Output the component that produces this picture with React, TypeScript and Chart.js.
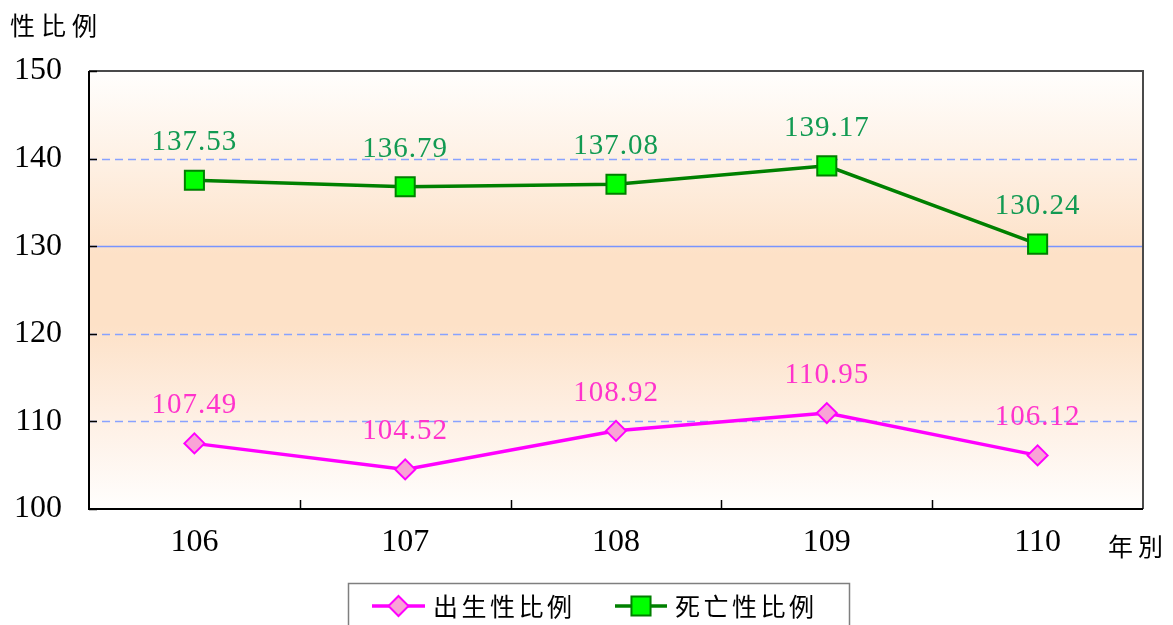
import React, { useEffect, useRef } from 'react';
import { Chart, registerables } from 'chart.js';

Chart.register(...registerables);

const years = ['106', '107', '108', '109', '110'];
const birthRatio = [107.49, 104.52, 108.92, 110.95, 106.12];
const deathRatio = [137.53, 136.79, 137.08, 139.17, 130.24];
const yTickValues = [100, 110, 120, 130, 140, 150];
const seriesNames = ['出生性比例', '死亡性比例'];
const yTitle = '性比例';
const xTitle = '年別';

const W = 1173;
const H = 625;
const CJK = '"Noto Sans CJK TC", "Noto Sans CJK SC", sans-serif';
const SERIF = '"Liberation Serif", "Times New Roman", serif';

function spaced(ctx: CanvasRenderingContext2D, text: string, x: number, y: number, pitch: number) {
  for (let i = 0; i < text.length; i++) ctx.fillText(text[i], x + i * pitch, y);
}

function drawMarker(ctx: CanvasRenderingContext2D, style: string, x: number, y: number, r: number, fill: string, stroke: string, lw: number) {
  ctx.save();
  ctx.beginPath();
  if (style === 'rectRot') {
    ctx.moveTo(x, y - r);
    ctx.lineTo(x + r, y);
    ctx.lineTo(x, y + r);
    ctx.lineTo(x - r, y);
    ctx.closePath();
  } else {
    const s = Math.SQRT1_2 * r;
    ctx.rect(x - s, y - s, 2 * s, 2 * s);
  }
  ctx.fillStyle = fill;
  ctx.fill();
  ctx.lineWidth = lw;
  ctx.strokeStyle = stroke;
  ctx.stroke();
  ctx.restore();
}

const labelColors = ['#FF33CC', '#129A52'];

const decor = {
  id: 'decor',
  beforeDatasetsDraw(chart: any) {
    const { ctx, chartArea: a } = chart;
    ctx.save();
    const g = ctx.createLinearGradient(0, a.top, 0, a.bottom);
    g.addColorStop(0, '#FFFEFD');
    g.addColorStop(0.2, '#FEF1E5');
    g.addColorStop(0.42, '#FDE1C7');
    g.addColorStop(0.58, '#FDE1C7');
    g.addColorStop(0.8, '#FEF0E5');
    g.addColorStop(1, '#FFFEFD');
    ctx.fillStyle = g;
    ctx.fillRect(a.left, a.top, a.right - a.left, a.bottom - a.top);
    const ys = chart.scales.y;
    yTickValues.slice(1, -1).forEach((v) => {
      const py = Math.round(ys.getPixelForValue(v)) + 0.5;
      ctx.beginPath();
      ctx.setLineDash(v === 130 ? [] : [8, 5]);
      ctx.strokeStyle = v === 130 ? '#7894FF' : '#88A2FF';
      ctx.lineWidth = v === 130 ? 1.5 : 1.3;
      ctx.moveTo(a.left, py);
      ctx.lineTo(a.right, py);
      ctx.stroke();
    });
    ctx.setLineDash([]);
    ctx.restore();
  },
  afterDatasetsDraw(chart: any) {
    const { ctx } = chart;
    ctx.save();
    ctx.font = `29px ${SERIF}`;
    (ctx as any).letterSpacing = '1px';
    ctx.textAlign = 'center';
    ctx.textBaseline = 'alphabetic';
    chart.data.datasets.forEach((ds: any, di: number) => {
      const meta = chart.getDatasetMeta(di);
      ctx.fillStyle = labelColors[di];
      meta.data.forEach((pt: any, i: number) => {
        ctx.fillText(Number(ds.data[i]).toFixed(2), pt.x, pt.y - 30);
      });
    });
    (ctx as any).letterSpacing = '0px';
    ctx.restore();
  },
  afterDraw(chart: any) {
    const { ctx, chartArea: a } = chart;
    ctx.save();
    // frame
    ctx.lineWidth = 2;
    ctx.strokeStyle = '#4A4A4A';
    ctx.beginPath();
    ctx.moveTo(a.left, a.top);
    ctx.lineTo(a.right, a.top);
    ctx.lineTo(a.right, a.bottom);
    ctx.stroke();
    ctx.strokeStyle = '#000000';
    ctx.beginPath();
    ctx.moveTo(a.left, a.top);
    ctx.lineTo(a.left, a.bottom);
    ctx.lineTo(a.right, a.bottom);
    ctx.stroke();
    // inward ticks
    ctx.lineWidth = 1.5;
    const ys = chart.scales.y;
    yTickValues.forEach((v) => {
      const py = Math.round(ys.getPixelForValue(v)) + 0.5;
      ctx.beginPath();
      ctx.moveTo(a.left, py);
      ctx.lineTo(a.left + 8, py);
      ctx.stroke();
    });
    const xs = chart.scales.x;
    for (let i = 1; i < years.length; i++) {
      const px = Math.round((xs.getPixelForValue(i - 1) + xs.getPixelForValue(i)) / 2) + 0.5;
      ctx.beginPath();
      ctx.moveTo(px, a.bottom);
      ctx.lineTo(px, a.bottom - 9);
      ctx.stroke();
    }
    // titles
    ctx.fillStyle = '#000';
    ctx.textAlign = 'left';
    ctx.textBaseline = 'middle';
    ctx.font = `25px ${CJK}`;
    spaced(ctx, yTitle, 10, 25, 31);
    spaced(ctx, xTitle, 1108, 546, 30);
    // legend
    ctx.lineWidth = 1.5;
    ctx.strokeStyle = '#7F7F7F';
    ctx.strokeRect(348.5, 583.5, 501, 60);
    const items = [
      { x0: 372, x1: 425, tx: 433 },
      { x0: 615, x1: 667, tx: 675 },
    ];
    const ly = 606;
    chart.data.datasets.forEach((ds: any, di: number) => {
      const it = items[di];
      ctx.beginPath();
      ctx.strokeStyle = ds.borderColor;
      ctx.lineWidth = ds.borderWidth;
      ctx.moveTo(it.x0, ly);
      ctx.lineTo(it.x1, ly);
      ctx.stroke();
      drawMarker(ctx, ds.pointStyle, (it.x0 + it.x1) / 2, ly, ds.pointRadius, ds.pointBackgroundColor, ds.pointBorderColor, ds.pointBorderWidth);
      ctx.fillStyle = '#000';
      ctx.font = `25px ${CJK}`;
      spaced(ctx, ds.label, it.tx, ly, 28.5);
    });
    ctx.restore();
  },
};

export default function App() {
  const ref = useRef<HTMLCanvasElement | null>(null);
  useEffect(() => {
    if (!ref.current) return;
    const chart = new Chart(ref.current, {
      type: 'line',
      data: {
        labels: years,
        datasets: [
          {
            label: seriesNames[0],
            data: birthRatio,
            borderColor: '#FF00FF',
            borderWidth: 3.5,
            pointStyle: 'rectRot',
            pointRadius: 10,
            pointHoverRadius: 10,
            pointBackgroundColor: '#F9A3D6',
            pointBorderColor: '#FF00FF',
            pointBorderWidth: 2,
            tension: 0,
          },
          {
            label: seriesNames[1],
            data: deathRatio,
            borderColor: '#008000',
            borderWidth: 3.5,
            pointStyle: 'rect',
            pointRadius: 13.5,
            pointHoverRadius: 13.5,
            pointBackgroundColor: '#00FF00',
            pointBorderColor: '#008000',
            pointBorderWidth: 2,
            tension: 0,
          },
        ],
      },
      options: {
        responsive: false,
        animation: false,
        devicePixelRatio: 1,
        layout: { padding: { left: 0, top: 71, right: 30, bottom: 0 } },
        plugins: {
          legend: { display: false },
          tooltip: { enabled: false },
          title: { display: false },
        },
        scales: {
          x: {
            type: 'category',
            offset: true,
            grid: { display: false, drawTicks: false },
            border: { display: false },
            ticks: { color: '#000', font: { family: SERIF, size: 32 }, padding: 14, maxRotation: 0 },
            afterFit: (s: any) => {
              s.height = H - 509;
            },
          },
          y: {
            min: yTickValues[0],
            max: yTickValues[yTickValues.length - 1],
            grid: { display: false, drawTicks: false },
            border: { display: false },
            ticks: { stepSize: 10, color: '#000', font: { family: SERIF, size: 32 }, padding: 27 },
            afterFit: (s: any) => {
              s.width = 89;
            },
          },
        },
      },
      plugins: [decor],
    });
    return () => chart.destroy();
  }, []);
  return (
    <div style={{ position: 'absolute', left: 0, top: 0, width: W, height: H }}>
      <canvas ref={ref} width={W} height={H} style={{ display: 'block', width: W, height: H }} />
    </div>
  );
}
